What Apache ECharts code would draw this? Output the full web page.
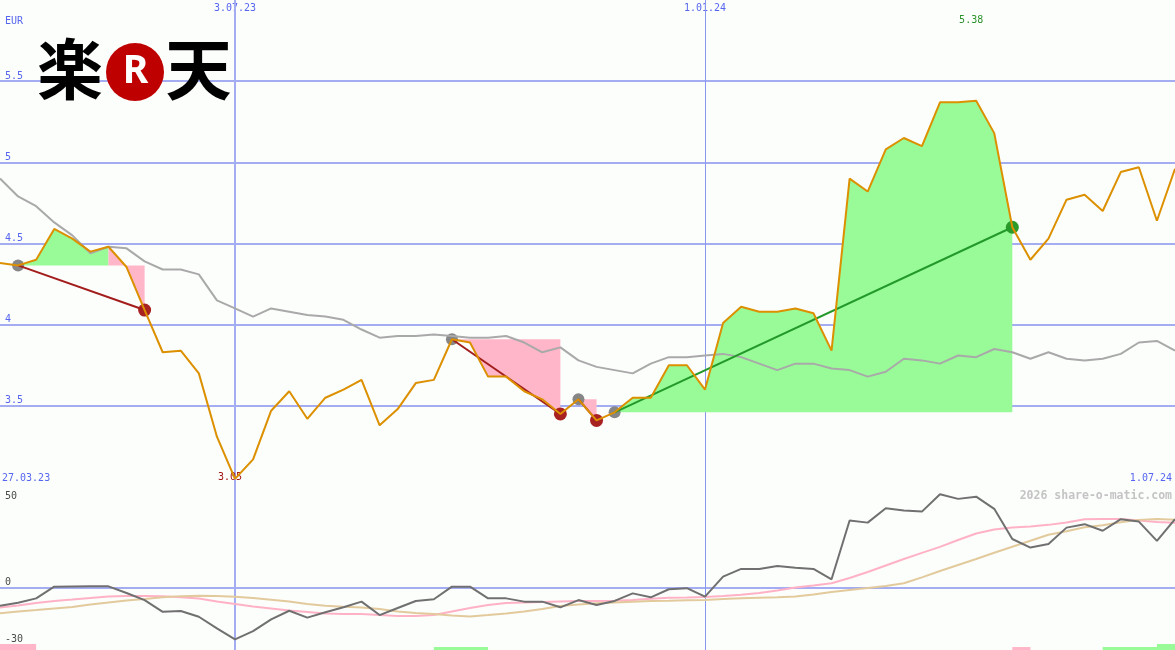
<!DOCTYPE html>
<html>
<head>
<meta charset="utf-8">
<title>楽天 EUR</title>
<script src="https://cdn.jsdelivr.net/npm/echarts@6/dist/echarts.min.js"></script>
<style>
  html, body { margin: 0; padding: 0; background: #fcfefc; }
  #chart { width: 1175px; height: 650px; }
</style>
</head>
<body>
<div id="chart"></div>
<script>
// Weekly closing prices in EUR, first week 3.04.23, last week 1.07.24
const price = [
  4.38, 4.365, 4.40, 4.59, 4.53, 4.45, 4.48, 4.355, 4.09, 3.83,
  3.84, 3.70, 3.31, 3.05, 3.17, 3.47, 3.59, 3.42, 3.55, 3.60,
  3.66, 3.38, 3.48, 3.64, 3.66, 3.91, 3.89, 3.68, 3.68, 3.59,
  3.54, 3.45, 3.54, 3.41, 3.46, 3.55, 3.55, 3.75, 3.75, 3.60,
  4.01, 4.11, 4.08, 4.08, 4.10, 4.07, 3.84, 4.90, 4.82, 5.08,
  5.15, 5.10, 5.37, 5.37, 5.38, 5.18, 4.60, 4.40, 4.53, 4.77,
  4.80, 4.70, 4.94, 4.97, 4.64, 4.96
];

// Moving average of the price
const average = [
  4.90, 4.79, 4.73, 4.63, 4.55, 4.44, 4.48, 4.47, 4.39, 4.34,
  4.34, 4.31, 4.15, 4.10, 4.05, 4.10, 4.08, 4.06, 4.05, 4.03,
  3.97, 3.92, 3.93, 3.93, 3.94, 3.93, 3.92, 3.92, 3.93, 3.89,
  3.83, 3.86, 3.78, 3.74, 3.72, 3.70, 3.76, 3.80, 3.80, 3.81,
  3.82, 3.80, 3.76, 3.72, 3.76, 3.76, 3.73, 3.72, 3.68, 3.71,
  3.79, 3.78, 3.76, 3.81, 3.80, 3.85, 3.83, 3.79, 3.83, 3.79,
  3.78, 3.79, 3.82, 3.89, 3.90, 3.84
];

// Lower panel: momentum in percent and its two smoothings
const momentum = [
  -10.5, -8.7, -6.2, 0.6, 0.7, 0.8, 0.8, -3.1, -7.2, -14.0,
  -13.5, -16.9, -23.6, -30.0, -25.2, -18.4, -13.4, -17.4, -14.3, -11.4,
  -8.1, -15.9, -11.8, -7.7, -6.7, 0.6, 0.6, -6.2, -6.2, -8.1,
  -8.1, -11.4, -7.2, -10.1, -7.7, -3.3, -5.6, -0.9, -0.3, -5.2,
  6.4, 10.9, 10.9, 12.6, 11.6, 10.9, 4.9, 39.0, 37.8, 46.2,
  44.8, 44.2, 54.3, 51.6, 52.9, 45.8, 28.3, 23.3, 25.4, 34.9,
  36.9, 33.1, 39.8, 38.4, 27.2, 39.8
];
const momentumFast = [
  -11.5, -10.3, -8.9, -7.7, -6.9, -6.0, -5.1, -4.8, -4.8, -5.0,
  -5.6, -6.3, -8.0, -9.5, -10.9, -12.1, -13.3, -14.1, -15.0, -15.3,
  -15.3, -15.9, -16.5, -16.5, -15.9, -13.8, -11.8, -10.1, -8.9, -8.6,
  -8.3, -8.0, -7.8, -7.8, -7.6, -7.2, -6.4, -5.8, -5.7, -5.4,
  -4.8, -4.1, -3.1, -1.6, 0.1, 1.3, 2.6, 5.6, 9.1, 12.9,
  16.7, 20.2, 23.7, 27.7, 31.5, 33.8, 35.0, 35.6, 36.5, 37.9,
  39.7, 39.9, 39.9, 39.1, 38.2, 37.8
];
const momentumSlow = [
  -14.8, -13.8, -13.0, -12.1, -11.2, -9.8, -8.6, -7.4, -6.6, -5.6,
  -4.9, -4.7, -4.8, -5.2, -6.0, -7.0, -8.0, -9.5, -10.5, -11.1,
  -11.5, -12.4, -13.8, -14.7, -15.3, -16.2, -16.7, -15.9, -15.0, -13.8,
  -12.4, -10.6, -9.8, -9.1, -8.6, -8.1, -7.7, -7.6, -7.3, -7.2,
  -6.6, -6.2, -5.8, -5.6, -5.1, -4.0, -2.5, -1.3, -0.2, 1.0,
  2.6, 6.0, 9.7, 13.2, 16.7, 20.3, 23.8, 27.3, 30.8, 32.8,
  35.1, 36.3, 38.0, 39.4, 39.9, 39.4
];

// Trades: week index of entry and exit, 1 = gain, 0 = loss
const tradeEntry = [1, 25, 32, 34];
const tradeExit = [8, 31, 33, 56];
const tradeWin = [0, 0, 0, 1];

// Shaded zones between the entry level and the price: [from, to, trade, gain?]
const fillZones = [
  [1, 6, 0, 1],
  [6, 8, 0, 0],
  [25, 31, 1, 0],
  [32, 33, 2, 0],
  [34, 56, 3, 1]
];

// Signal strip at the foot of the lower panel: [from, to, level, gain?]
const signalBars = [
  [0, 2, 2, 0],
  [24, 27, 1, 1],
  [56, 57, 1, 0],
  [61, 65, 1, 1],
  [64, 65, 2, 1]
];

const dateMarks = ['3.07.23', '1.01.24'];
const rangeLabels = ['27.03.23', '1.07.24'];
const momentumTicks = [-30, 0, 50];
const priceLines = [3.5, 4, 4.5, 5, 5.5];
const currency = 'EUR';

// Week labels in d.mm.yy form
const weeks = [];
for (let i = 0; i < price.length; i++) {
  const d = new Date(Date.UTC(2023, 3, 3 + 7 * i));
  weeks.push(d.getUTCDate() + '.' + String(d.getUTCMonth() + 1).padStart(2, '0') + '.' +
    String(d.getUTCFullYear()).slice(2));
}

const BLUE_TEXT = '#5666ee';
const GRID = '#a4acf2';
const GAIN_FILL = '#98fb98';
const LOSS_FILL = '#ffb6c8';
const MONO = "'DejaVu Sans Mono', monospace";

const gridLine = (w, c) => ({ color: c || GRID, width: w, type: 'solid' });
const verticalMarks = dateMarks.map((d, i) => ({
  xAxis: weeks.indexOf(d),
  lineStyle: i === 0 ? gridLine(2) : gridLine(1, '#8a96f0')
}));

function renderZone(params, api) {
  const from = api.value(0), to = api.value(1), trade = api.value(2), gain = api.value(3);
  const level = price[tradeEntry[trade]];
  const pts = [api.coord([from, level])];
  for (let i = from; i <= to; i++) pts.push(api.coord([i, price[i]]));
  pts.push(api.coord([to, level]));
  return { type: 'polygon', shape: { points: pts }, style: { fill: gain ? GAIN_FILL : LOSS_FILL } };
}

function renderTrade(params, api) {
  const a = api.value(0), b = api.value(1), win = api.value(2);
  const p1 = api.coord([a, price[a]]);
  const p2 = api.coord([b, price[b]]);
  return {
    type: 'line',
    shape: { x1: p1[0], y1: p1[1], x2: p2[0], y2: p2[1] },
    style: { stroke: win ? '#23992a' : '#a31d1d', lineWidth: 2 }
  };
}

function renderSignal(params, api) {
  const a = api.coord([api.value(0), 0]);
  const b = api.coord([api.value(1), api.value(2)]);
  return {
    type: 'rect',
    shape: { x: a[0], y: b[1], width: b[0] - a[0], height: a[1] - b[1] },
    style: { fill: api.value(3) ? GAIN_FILL : LOSS_FILL }
  };
}

const chart = echarts.init(document.getElementById('chart'));
chart.setOption({
  animation: false,
  backgroundColor: '#fcfefc',
  grid: [
    { left: 0, right: 0, top: 0, height: 487, containLabel: false, outerBoundsMode: 'none' },
    { left: 0, right: 0, top: 487, bottom: 0, containLabel: false, outerBoundsMode: 'none' }
  ],
  xAxis: [
    {
      gridIndex: 0, type: 'category', data: weeks, boundaryGap: false, position: 'top',
      axisLine: { show: false }, axisTick: { show: false }, splitLine: { show: false },
      axisLabel: {
        inside: true, margin: 3, color: BLUE_TEXT, fontFamily: MONO, fontSize: 10,
        interval: (i, v) => dateMarks.includes(v)
      }
    },
    {
      gridIndex: 1, type: 'category', data: weeks, boundaryGap: false, position: 'top',
      axisLine: { show: true, lineStyle: { color: '#7b86ee', width: 2 } },
      axisTick: { show: false }, axisLabel: { show: false }, splitLine: { show: false }
    }
  ],
  yAxis: [
    {
      gridIndex: 0, type: 'value', min: 3, max: 6, interval: 0.5,
      axisLine: { show: false }, axisTick: { show: false }, splitLine: { show: false },
      axisLabel: {
        inside: true, margin: 5, verticalAlign: 'bottom', showMinLabel: false, showMaxLabel: false,
        color: BLUE_TEXT, fontFamily: MONO, fontSize: 10
      }
    },
    {
      gridIndex: 1, type: 'value', min: -36.2, max: 58.5,
      axisLine: { show: false }, axisTick: { show: false }, splitLine: { show: false },
      axisLabel: {
        inside: true, margin: 5, verticalAlign: 'bottom', verticalAlignMinLabel: 'middle',
        customValues: momentumTicks, showMinLabel: true, showMaxLabel: true,
        color: '#4a4a4a', fontFamily: MONO, fontSize: 10
      }
    },
    { gridIndex: 1, type: 'value', min: 0, max: 163 / 3, show: false }
  ],
  series: [
    {
      name: 'zones', type: 'custom', xAxisIndex: 0, yAxisIndex: 0, z: 2,
      renderItem: renderZone, data: fillZones, silent: true
    },
    {
      name: 'entries', type: 'scatter', xAxisIndex: 0, yAxisIndex: 0, z: 3,
      symbolSize: 12, itemStyle: { color: '#868686', opacity: 1 },
      data: tradeEntry.map(i => [i, price[i]]), silent: true
    },
    {
      name: 'exits', type: 'scatter', xAxisIndex: 0, yAxisIndex: 0, z: 3,
      symbolSize: 13,
      data: tradeExit.map((i, t) => ({
        value: [i, price[i]],
        itemStyle: { color: tradeWin[t] ? '#2a9a2a' : '#a82222', opacity: 1 }
      })),
      silent: true
    },
    {
      name: 'average', type: 'line', xAxisIndex: 0, yAxisIndex: 0, z: 4,
      data: average, symbol: 'none', lineStyle: { color: '#a9a9a9', width: 2 },
      markLine: {
        silent: true, symbol: ['none', 'none'], z: 1, label: { show: false },
        data: priceLines.map(v => ({ yAxis: v, lineStyle: gridLine(2) })).concat(verticalMarks)
      }
    },
    {
      name: 'trades', type: 'custom', xAxisIndex: 0, yAxisIndex: 0, z: 5,
      renderItem: renderTrade,
      data: tradeEntry.map((a, t) => [a, tradeExit[t], tradeWin[t]]), silent: true
    },
    {
      name: 'price', type: 'line', xAxisIndex: 0, yAxisIndex: 0, z: 6,
      data: price, symbol: 'none', lineStyle: { color: '#dc9000', width: 2 },
      markPoint: {
        symbol: 'circle', symbolSize: 1, itemStyle: { color: 'rgba(0,0,0,0)' },
        label: { show: true, position: 'inside', fontFamily: MONO, fontSize: 10,
          formatter: p => Number(p.value).toFixed(2) },
        data: [
          { type: 'max', label: { offset: [-5, -80], color: '#2b922b' } },
          { type: 'min', label: { offset: [-5, -1], color: '#a01414' } }
        ]
      }
    },
    {
      name: 'signals', type: 'custom', xAxisIndex: 1, yAxisIndex: 2, z: 2,
      renderItem: renderSignal, data: signalBars, silent: true
    },
    {
      name: 'fast', type: 'line', xAxisIndex: 1, yAxisIndex: 1, z: 3,
      data: momentumFast, symbol: 'none', lineStyle: { color: '#ffb2c6', width: 2 },
      markLine: {
        silent: true, symbol: ['none', 'none'], z: 1, label: { show: false },
        data: [{ yAxis: 0, lineStyle: gridLine(2) }].concat(verticalMarks)
      }
    },
    {
      name: 'slow', type: 'line', xAxisIndex: 1, yAxisIndex: 1, z: 3,
      data: momentumSlow, symbol: 'none', lineStyle: { color: '#e2ca9c', width: 2 }
    },
    {
      name: 'momentum', type: 'line', xAxisIndex: 1, yAxisIndex: 1, z: 4,
      data: momentum, symbol: 'none', lineStyle: { color: '#707070', width: 2 }
    }
  ],
  graphic: [
    { type: 'text', x: 5, y: 21, style: { text: currency, fill: BLUE_TEXT, font: '10px ' + MONO, verticalAlign: 'middle' } },
    { type: 'text', x: 2, y: 478, style: { text: rangeLabels[0], fill: BLUE_TEXT, font: '10px ' + MONO, verticalAlign: 'middle' } },
    { type: 'text', x: 1172, y: 478, style: { text: rangeLabels[1], fill: BLUE_TEXT, font: '10px ' + MONO, align: 'right', verticalAlign: 'middle' } },
    { type: 'text', x: 1172, y: 496, style: { text: '2026 share-o-matic.com', fill: '#c4c4c4', font: 'bold 11.5px ' + MONO, align: 'right', verticalAlign: 'middle' } },
    // logo
    { type: 'text', x: 70, y: 69, z: 10, style: { text: '楽', fill: '#000', font: 'bold 66px "Noto Sans CJK JP"', align: 'center', verticalAlign: 'middle' } },
    { type: 'circle', z: 10, shape: { cx: 135, cy: 72, r: 29 }, style: { fill: '#bf0000' } },
    { type: 'text', x: 135.5, y: 72, z: 11, style: { text: 'R', fill: '#fff', font: 'bold 39px "Noto Sans"', align: 'center', verticalAlign: 'middle' } },
    { type: 'text', x: 198.5, y: 69, z: 10, style: { text: '天', fill: '#000', font: 'bold 66px "Noto Sans CJK JP"', align: 'center', verticalAlign: 'middle' } }
  ]
});
</script>
</body>
</html>
